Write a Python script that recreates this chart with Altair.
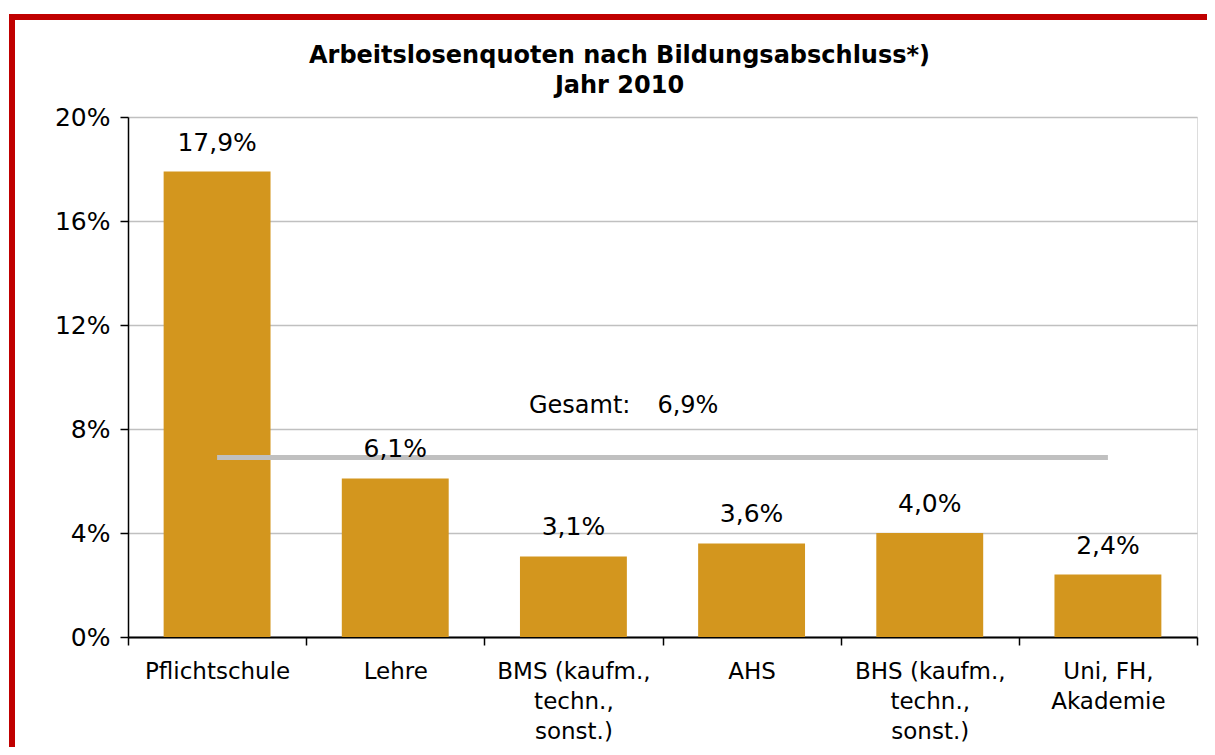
import altair as alt
import pandas as pd

categories = ["Pflichtschule", "Lehre", "BMS (kaufm.,|techn.,|sonst.)", "AHS",
              "BHS (kaufm.,|techn.,|sonst.)", "Uni, FH,|Akademie"]
rates = [17.9, 6.1, 3.1, 3.6, 4.0, 2.4]
gesamt = 6.9
y_ticks = [0, 4, 8, 12, 16, 20]
title_lines = ["Arbeitslosenquoten nach Bildungsabschluss*)", "Jahr 2010"]

FONT = "DejaVu Sans"
BAR = "#D3961E"
GRID = "#C0C0C0"
RED = "#C00000"

df = pd.DataFrame({"cat": categories, "rate": rates})
df["label"] = [f"{v:.1f}".replace(".", ",") + "%" for v in rates]
gdf = pd.DataFrame({"g": [gesamt], "gl": [f"{gesamt:.1f}".replace(".", ",") + "%"]})
one = pd.DataFrame({"a": [0]})

xscale = alt.Scale(domain=categories, paddingInner=0, paddingOuter=0)
yscale = alt.Scale(domain=[0, 20], nice=False)

x_enc = alt.X("cat:N", scale=xscale, sort=None,
              axis=alt.Axis(title=None, labelAngle=0, labelExpr="split(datum.label, '|')",
                            tickBand="extent", tickSize=8, tickColor="black", tickWidth=1.5,
                            domainColor="black", domainWidth=2, labelFontSize=23,
                            labelLineHeight=30, labelPadding=15, labelFont=FONT,
                            labelColor="black", grid=False))
y_enc = alt.Y("rate:Q", scale=yscale,
              axis=alt.Axis(title=None, values=y_ticks, labelExpr="datum.value + '%'",
                            grid=True, gridColor=GRID, gridWidth=1.5, domainColor="black",
                            domainWidth=1.5, tickColor="black", tickWidth=1.5, tickSize=8,
                            labelFontSize=25, labelPadding=10, labelFont=FONT,
                            labelColor="black"))

base = alt.Chart(df).encode(x=x_enc, y=y_enc)
bars = base.mark_bar(width={"band": 0.6}, color=BAR)
labels = base.mark_text(dy=-29, fontSize=25, font=FONT, baseline="middle", color="black").encode(text="label:N")

grule = alt.Chart(gdf).mark_rule(color=GRID, strokeWidth=5).encode(
    x=alt.datum(categories[0]), x2=alt.datum(categories[-1]), y=alt.Y("g:Q", scale=yscale, title=None))
gtext1 = alt.Chart(gdf).mark_text(text="Gesamt:", align="right", dx=57, dy=-52, fontSize=24,
                                  font=FONT, baseline="middle", color="black").encode(
    x=alt.datum(categories[2]), y=alt.Y("g:Q", scale=yscale, title=None))
gtext2 = alt.Chart(gdf).mark_text(align="left", dx=84, dy=-52, fontSize=24,
                                  font=FONT, baseline="middle", color="black").encode(
    x=alt.datum(categories[2]), y=alt.Y("g:Q", scale=yscale, title=None), text="gl:N")

border_top = alt.Chart(one).mark_rule(color=RED, strokeWidth=6).encode(
    x=alt.value(-119), x2=alt.value(1100), y=alt.value(-100))
border_left = alt.Chart(one).mark_rule(color=RED, strokeWidth=6).encode(
    x=alt.value(-116), y=alt.value(-103), y2=alt.value(640))

chart = alt.layer(bars, grule, labels, gtext1, gtext2, border_top, border_left).properties(
    width=1069, height=520,
    autosize=alt.AutoSizeParams(type="none"),
    padding={"left": 120, "top": 109, "right": 10, "bottom": 110},
    title=alt.TitleParams(title_lines, font=FONT, fontSize=24, fontWeight="bold",
                          color="black", lineHeight=30, dx=-43, dy=107, offset=20, anchor="middle"),
).configure_view(stroke=None).configure(background="white")

chart.save("out.html", embed_options={"renderer": "svg", "actions": False})
